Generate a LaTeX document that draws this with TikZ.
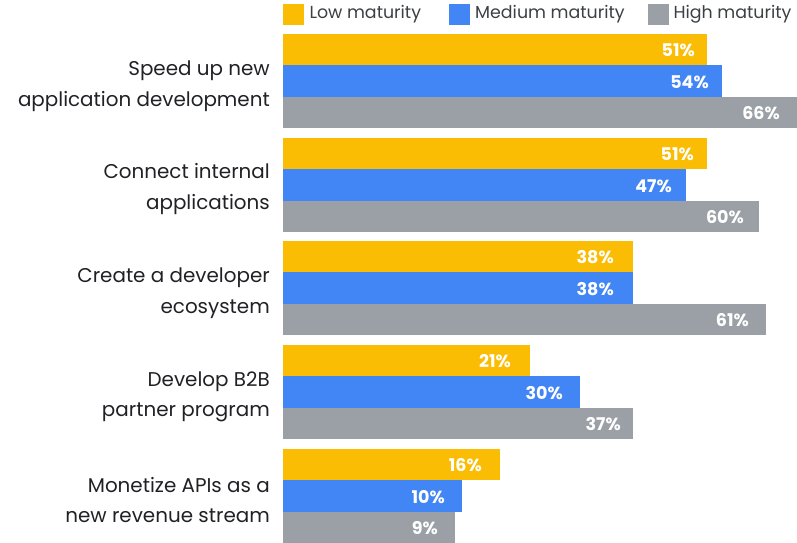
\documentclass[tikz,border=0pt]{standalone}
\usepackage{fontspec}
\setmainfont{Poppins}
\definecolor{cyel}{HTML}{FBBC04}
\definecolor{cblu}{HTML}{4285F4}
\definecolor{cgry}{HTML}{9AA0A6}
\definecolor{ctxt}{HTML}{202124}
\definecolor{cleg}{HTML}{3C4043}
\newcommand\mybar[6]{%
  \fill[#4] (282.5,#2) rectangle (#3,#2+31.4);
  \node[val] (#1) at (#5,#2+16.5) {#6};
}
\begin{document}
\begin{tikzpicture}[x=1pt,y=-1pt,
  val/.style={anchor=east,inner sep=0pt,text=white,font=\fontsize{17.5}{19}\selectfont\bfseries},
  lab/.style={anchor=east,inner sep=0pt,align=right,text=ctxt,font=\fontsize{19.9}{30.5}\selectfont},
  leg/.style={anchor=west,inner sep=0pt,text=cleg,font=\fontsize{17.4}{19}\selectfont},
  sw/.style={minimum width=20.6pt,minimum height=20.6pt,inner sep=0pt,anchor=west}]
\useasboundingbox (0,0) rectangle (797,542);
% legend
\node[sw,fill=cyel] (s1) at (282.7,14.3) {};
\node[leg] (t1) at (309.3,14.3) {Low maturity};
\node[sw,fill=cblu] (s2) at (448.7,14.3) {};
\node[leg] (t2) at (475,14.3) {Medium maturity};
\node[sw,fill=cgry] (s3) at (648,14.3) {};
\node[leg] (t3) at (673.3,14.3) {High maturity};
% group 1
\mybar{v11}{34}{707}{cyel}{695}{51\%}
\mybar{v12}{65.3}{722}{cblu}{709}{54\%}
\mybar{v13}{96.6}{797}{cgry}{780}{66\%}
% group 2
\mybar{v21}{138}{707}{cyel}{694}{51\%}
\mybar{v22}{169.3}{686}{cblu}{672}{47\%}
\mybar{v23}{200.6}{759}{cgry}{744}{60\%}
% group 3
\mybar{v31}{241}{633}{cyel}{614}{38\%}
\mybar{v32}{272.3}{633}{cblu}{614}{38\%}
\mybar{v33}{303.6}{766}{cgry}{749}{61\%}
% group 4
\mybar{v41}{345}{530}{cyel}{511}{21\%}
\mybar{v42}{376.3}{580}{cblu}{563}{30\%}
\mybar{v43}{407.6}{633}{cgry}{621}{37\%}
% group 5
\mybar{v51}{449}{500}{cyel}{482}{16\%}
\mybar{v52}{480.3}{462}{cblu}{445}{10\%}
\mybar{v53}{511.6}{455}{cgry}{438}{9\%}
% category labels
\node[lab] (c1) at (270,86) {Speed up new\\application development};
\node[lab] (c2) at (270,189) {Connect internal\\applications};
\node[lab] (c3) at (270,293) {Create a developer\\ecosystem};
\node[lab] (c4) at (270,397) {Develop B2B\\partner program};
\node[lab] (c5) at (270,500) {Monetize APIs as a\\new revenue stream};
\end{tikzpicture}
\end{document}
